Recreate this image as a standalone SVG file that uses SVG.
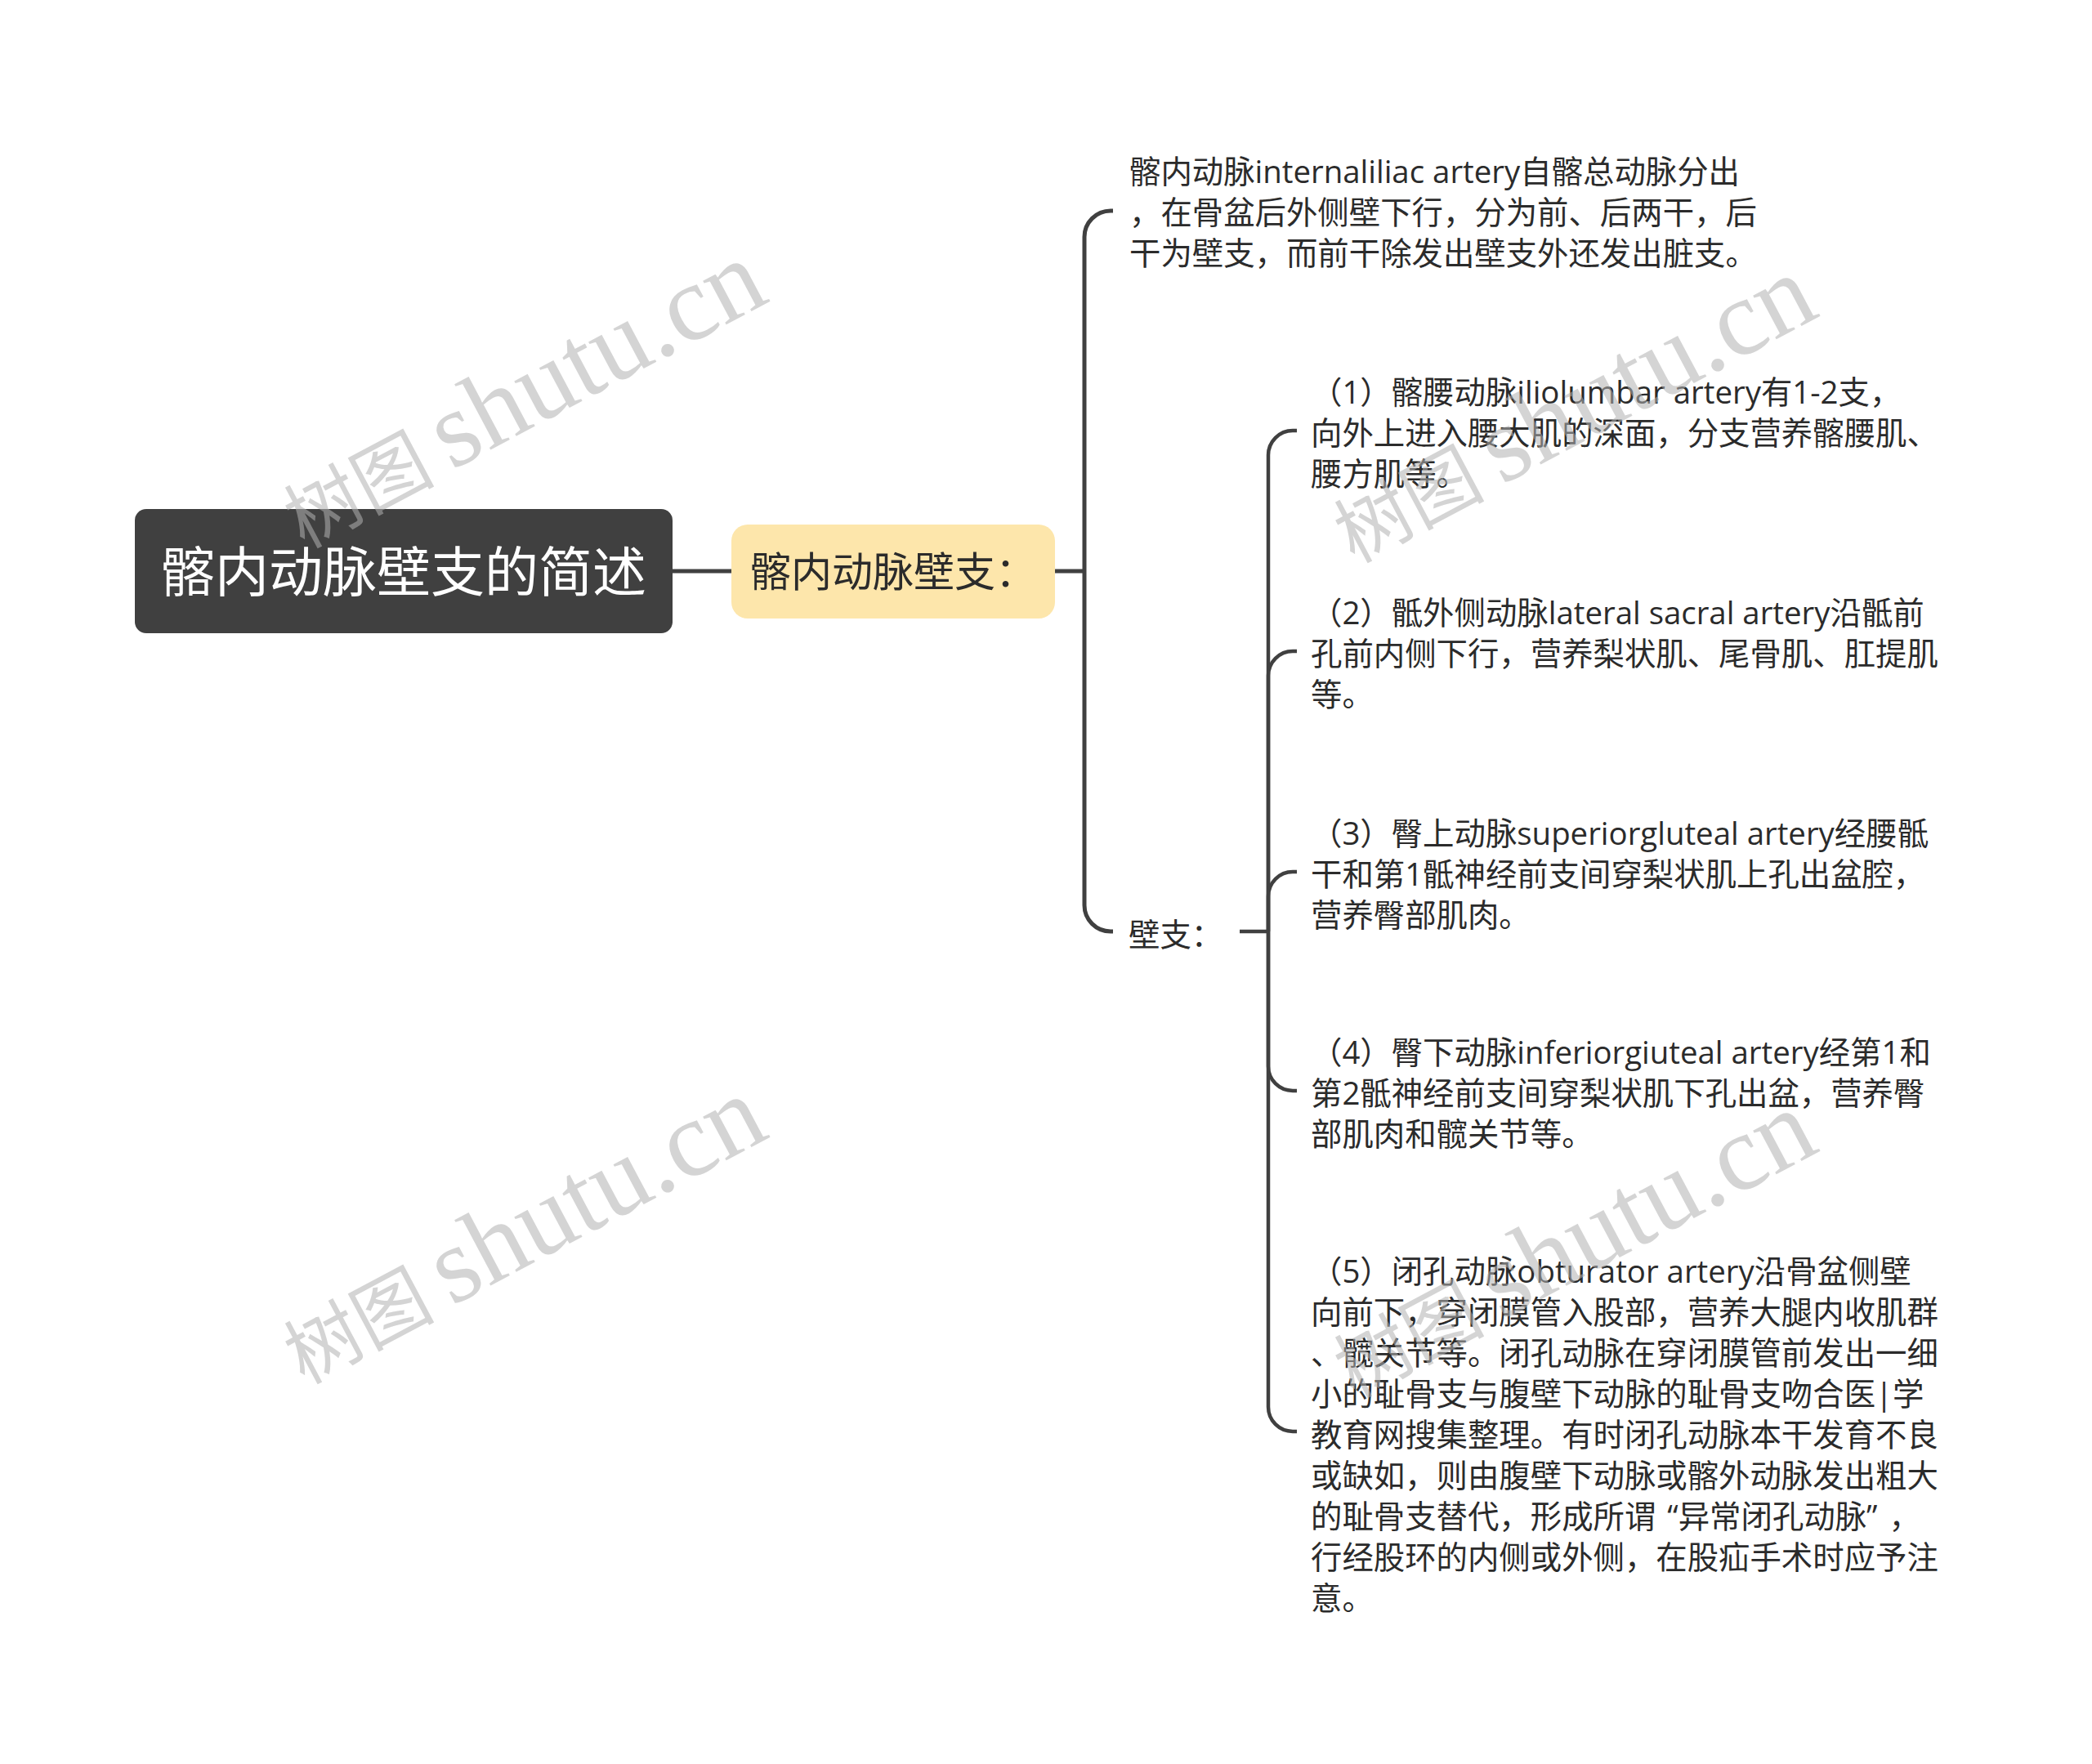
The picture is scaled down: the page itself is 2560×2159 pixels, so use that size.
<svg xmlns="http://www.w3.org/2000/svg" width="2560" height="2159" viewBox="0 0 2560 2159">
<style>
.t{font-family:"Open Sans","Noto Sans CJK SC",sans-serif;font-size:38.4px;fill:#2b2b2b}
.c1{fill:none;stroke:#404040;stroke-width:5}
.c2{fill:none;stroke:#404040;stroke-width:4.5}
.wm{font-family:"Noto Sans CJK SC",serif;font-size:92px;fill:#b0b0b0;fill-opacity:0.55}
.wl{font-family:"Liberation Serif",serif;font-size:132px}
</style>
<rect width="2560" height="2159" fill="#ffffff"/>
<g id="connectors">
<path class="c1" d="M823,699 H895"/>
<path class="c1" d="M1291,699 H1327"/>
<path class="c1" d="M1327,699 V290 A32,32 0 0 1 1359,258 H1362"/>
<path class="c1" d="M1327,699 V1108 A32,32 0 0 0 1359,1140 H1362"/>
<path class="c2" d="M1517,1140 H1552"/>
<path class="c2" d="M1552,1140 V557 A30,30 0 0 1 1582,527 H1587"/>
<path class="c2" d="M1552,1140 V827 A30,30 0 0 1 1582,797 H1587"/>
<path class="c2" d="M1552,1140 V1097 A30,30 0 0 1 1582,1067 H1587"/>
<path class="c2" d="M1552,1140 V1305 A30,30 0 0 0 1582,1335 H1587"/>
<path class="c2" d="M1552,1140 V1722 A30,30 0 0 0 1582,1752 H1587"/>
</g>
<g id="root">
<rect x="165" y="623" width="658" height="152" rx="14" fill="#404040"/>
<text x="494" y="724" text-anchor="middle" font-family="Noto Sans CJK SC,sans-serif" font-size="66" fill="#ffffff">髂内动脉壁支的简述</text>
</g>
<g id="sub">
<rect x="895" y="642" width="396" height="115" rx="20" fill="#fde6ab"/>
<text x="918" y="718" font-family="Noto Sans CJK SC,sans-serif" font-size="50" fill="#2b2b2b">髂内动脉壁支：</text>
</g>
<g id="intro">
<text class="t" x="1382" y="224">髂内动脉internaliliac artery自髂总动脉分出<tspan x="1382" dy="50">，在骨盆后外侧壁下行，分为前、后两干，后</tspan><tspan x="1382" dy="50">干为壁支，而前干除发出壁支外还发出脏支。</tspan></text>
</g>
<g id="wall">
<text class="t" x="1381" y="1158">壁支：</text>
</g>
<g id="item1">
<text class="t" x="1604" y="494">（1）髂腰动脉iliolumbar artery有1-2支，<tspan x="1604" dy="50">向外上进入腰大肌的深面，分支营养髂腰肌、</tspan><tspan x="1604" dy="50">腰方肌等。</tspan></text>
</g>
<g id="item2">
<text class="t" x="1604" y="764">（2）骶外侧动脉lateral sacral artery沿骶前<tspan x="1604" dy="50">孔前内侧下行，营养梨状肌、尾骨肌、肛提肌</tspan><tspan x="1604" dy="50">等。</tspan></text>
</g>
<g id="item3">
<text class="t" x="1604" y="1034">（3）臀上动脉superiorgluteal artery经腰骶<tspan x="1604" dy="50">干和第1骶神经前支间穿梨状肌上孔出盆腔，</tspan><tspan x="1604" dy="50">营养臀部肌肉。</tspan></text>
</g>
<g id="item4">
<text class="t" x="1604" y="1302">（4）臀下动脉inferiorgiuteal artery经第1和<tspan x="1604" dy="50">第2骶神经前支间穿梨状肌下孔出盆，营养臀</tspan><tspan x="1604" dy="50">部肌肉和髋关节等。</tspan></text>
</g>
<g id="item5">
<text class="t" x="1604" y="1570">（5）闭孔动脉obturator artery沿骨盆侧壁<tspan x="1604" dy="50">向前下，穿闭膜管入股部，营养大腿内收肌群</tspan><tspan x="1604" dy="50">、髋关节等。闭孔动脉在穿闭膜管前发出一细</tspan><tspan x="1604" dy="50">小的耻骨支与腹壁下动脉的耻骨支吻合医|学</tspan><tspan x="1604" dy="50">教育网搜集整理。有时闭孔动脉本干发育不良</tspan><tspan x="1604" dy="50">或缺如，则由腹壁下动脉或髂外动脉发出粗大</tspan><tspan x="1604" dy="50">的耻骨支替代，形成所谓<tspan dx="14">“</tspan>异常闭孔动脉”<tspan dx="14">，</tspan></tspan><tspan x="1604" dy="50">行经股环的内侧或外侧，在股疝手术时应予注</tspan><tspan x="1604" dy="50">意。</tspan></text>
</g>
<g id="watermarks">
<text class="wm" transform="translate(372,672) rotate(-28)">树图 <tspan class="wl">shutu.cn</tspan></text>
<text class="wm" transform="translate(1657,690) rotate(-28)">树图 <tspan class="wl">shutu.cn</tspan></text>
<text class="wm" transform="translate(372,1695) rotate(-28)">树图 <tspan class="wl">shutu.cn</tspan></text>
<text class="wm" transform="translate(1657,1712) rotate(-28)">树图 <tspan class="wl">shutu.cn</tspan></text>
</g>
</svg>
